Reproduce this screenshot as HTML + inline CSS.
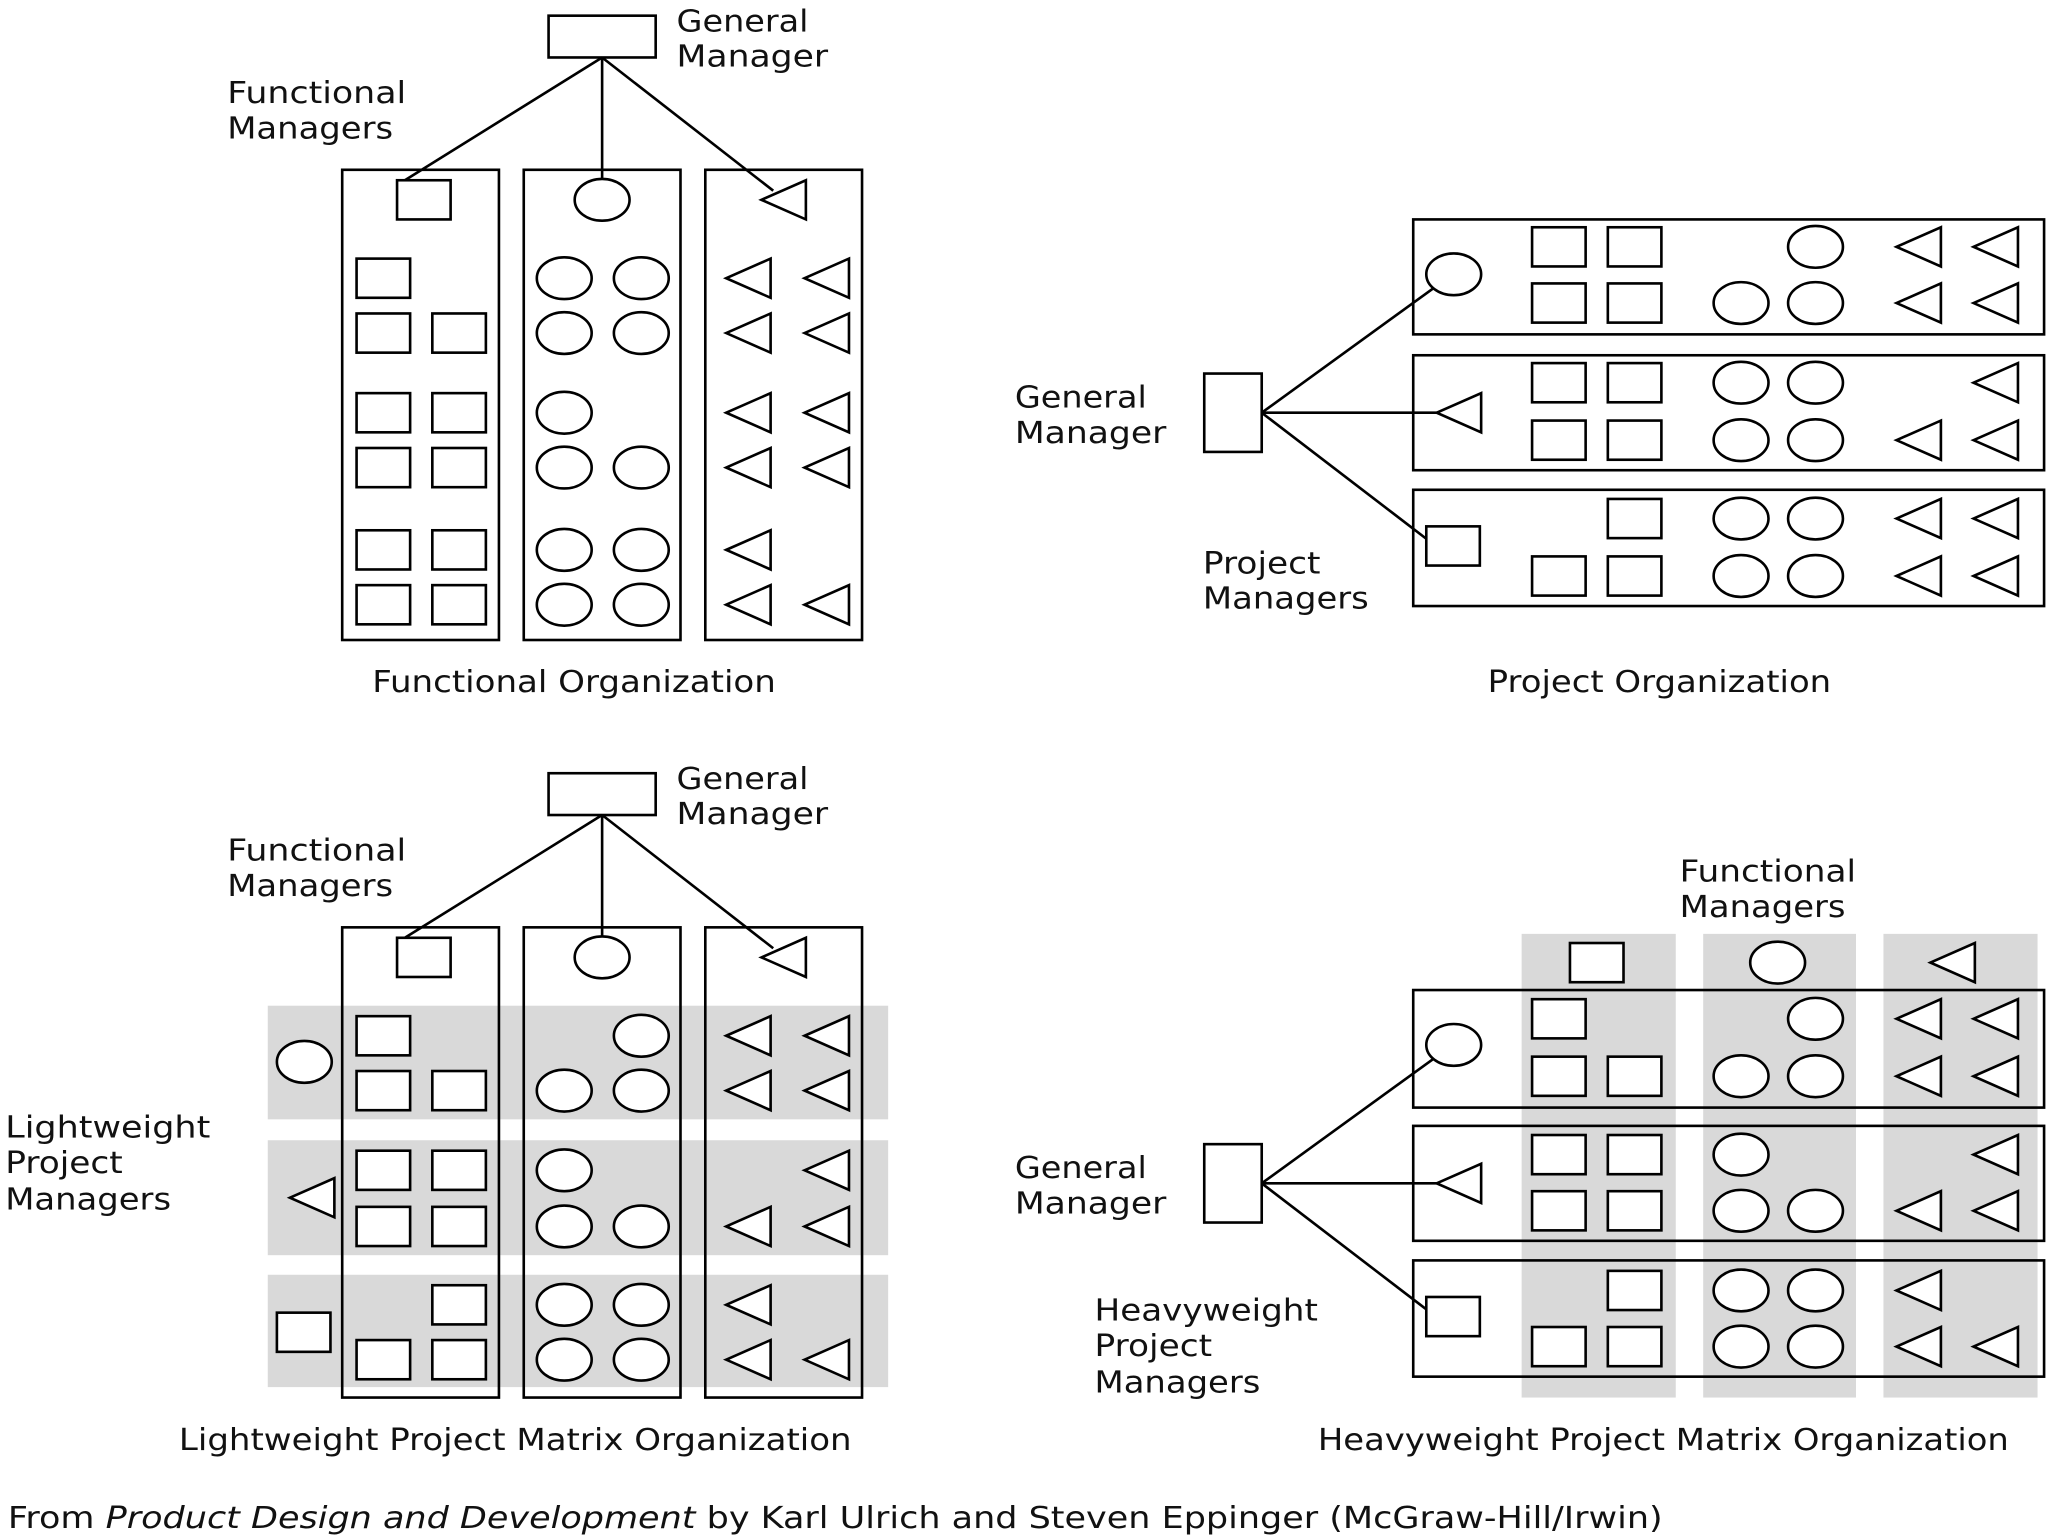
<!DOCTYPE html>
<html><head><meta charset="utf-8"><style>html,body{margin:0;padding:0;background:#fff}svg{display:block}text{font-family:"DejaVu Sans","Liberation Sans",sans-serif;font-size:23px;fill:#111}</style></head><body>
<svg width="2048" height="1536" viewBox="0 0 1568 1176" xmlns="http://www.w3.org/2000/svg">
<defs>
<rect id="s" x="0" y="-15" width="41" height="30" fill="#fff" stroke="#000" stroke-width="2"/>
<ellipse id="c" cx="0" cy="0" rx="21" ry="16" fill="#fff" stroke="#000" stroke-width="2"/>
<polygon id="t" points="0,0 34,-15 34,15" fill="#fff" stroke="#000" stroke-width="2"/>
</defs>
<g fill="none" stroke="#000" stroke-width="2">
<rect x="420" y="12" width="82" height="32"/>
<line x1="461" y1="44" x2="310" y2="138"/><line x1="461" y1="44" x2="461" y2="137"/><line x1="461" y1="44" x2="592" y2="146"/>
<rect x="262" y="130" width="120" height="360"/><rect x="401" y="130" width="120" height="360"/><rect x="540" y="130" width="120" height="360"/>
</g>
<use href="#s" x="304" y="153"/><use href="#c" x="461" y="153"/><use href="#t" x="583" y="153"/>
<use href="#s" x="273" y="213"/>
<use href="#s" x="273" y="255"/><use href="#s" x="331" y="255"/>
<use href="#s" x="273" y="316"/><use href="#s" x="331" y="316"/>
<use href="#s" x="273" y="358"/><use href="#s" x="331" y="358"/>
<use href="#s" x="273" y="421"/><use href="#s" x="331" y="421"/>
<use href="#s" x="273" y="463"/><use href="#s" x="331" y="463"/>
<use href="#c" x="432" y="213"/><use href="#c" x="491" y="213"/>
<use href="#c" x="432" y="255"/><use href="#c" x="491" y="255"/>
<use href="#c" x="432" y="316"/>
<use href="#c" x="432" y="358"/><use href="#c" x="491" y="358"/>
<use href="#c" x="432" y="421"/><use href="#c" x="491" y="421"/>
<use href="#c" x="432" y="463"/><use href="#c" x="491" y="463"/>
<use href="#t" x="556" y="213"/><use href="#t" x="616" y="213"/>
<use href="#t" x="556" y="255"/><use href="#t" x="616" y="255"/>
<use href="#t" x="556" y="316"/><use href="#t" x="616" y="316"/>
<use href="#t" x="556" y="358"/><use href="#t" x="616" y="358"/>
<use href="#t" x="556" y="421"/>
<use href="#t" x="556" y="463"/><use href="#t" x="616" y="463"/>
<text x="518" y="24" textLength="101" lengthAdjust="spacingAndGlyphs">General</text><text x="518" y="51" textLength="116" lengthAdjust="spacingAndGlyphs">Manager</text>
<text x="174" y="79" textLength="137" lengthAdjust="spacingAndGlyphs">Functional</text><text x="174" y="106" textLength="127" lengthAdjust="spacingAndGlyphs">Managers</text>
<text x="285" y="530" textLength="309" lengthAdjust="spacingAndGlyphs">Functional Organization</text>

<g fill="none" stroke="#000" stroke-width="2">
<rect x="1082" y="168" width="483" height="88"/><rect x="1082" y="272" width="483" height="88"/><rect x="1082" y="375" width="483" height="89"/>
<rect x="922" y="286" width="44" height="60"/>
<line x1="966" y1="316" x2="1097" y2="221"/><line x1="966" y1="316" x2="1100" y2="316"/><line x1="966" y1="316" x2="1094" y2="414"/>
</g>
<use href="#c" x="1113" y="210"/><use href="#t" x="1100" y="316"/><use href="#s" x="1092" y="418"/>
<use href="#s" x="1173" y="189"/><use href="#s" x="1231" y="189"/><use href="#c" x="1390" y="189"/><use href="#t" x="1452" y="189"/><use href="#t" x="1511" y="189"/>
<use href="#s" x="1173" y="232"/><use href="#s" x="1231" y="232"/><use href="#c" x="1333" y="232"/><use href="#c" x="1390" y="232"/><use href="#t" x="1452" y="232"/><use href="#t" x="1511" y="232"/>
<use href="#s" x="1173" y="293"/><use href="#s" x="1231" y="293"/><use href="#c" x="1333" y="293"/><use href="#c" x="1390" y="293"/><use href="#t" x="1511" y="293"/>
<use href="#s" x="1173" y="337"/><use href="#s" x="1231" y="337"/><use href="#c" x="1333" y="337"/><use href="#c" x="1390" y="337"/><use href="#t" x="1452" y="337"/><use href="#t" x="1511" y="337"/>
<use href="#s" x="1231" y="397"/><use href="#c" x="1333" y="397"/><use href="#c" x="1390" y="397"/><use href="#t" x="1452" y="397"/><use href="#t" x="1511" y="397"/>
<use href="#s" x="1173" y="441"/><use href="#s" x="1231" y="441"/><use href="#c" x="1333" y="441"/><use href="#c" x="1390" y="441"/><use href="#t" x="1452" y="441"/><use href="#t" x="1511" y="441"/>
<text x="777" y="312" textLength="101" lengthAdjust="spacingAndGlyphs">General</text><text x="777" y="339" textLength="116" lengthAdjust="spacingAndGlyphs">Manager</text>
<text x="921" y="439" textLength="90" lengthAdjust="spacingAndGlyphs">Project</text><text x="921" y="466" textLength="127" lengthAdjust="spacingAndGlyphs">Managers</text>
<text x="1139" y="530" textLength="263" lengthAdjust="spacingAndGlyphs">Project Organization</text>

<g fill="#d9d9d9"><rect x="205" y="770" width="475" height="87"/><rect x="205" y="873" width="475" height="88"/><rect x="205" y="976" width="475" height="86"/></g>
<g fill="none" stroke="#000" stroke-width="2">
<rect x="420" y="592" width="82" height="32"/>
<line x1="461" y1="624" x2="310" y2="718"/><line x1="461" y1="624" x2="461" y2="717"/><line x1="461" y1="624" x2="592" y2="726"/>
<rect x="262" y="710" width="120" height="360"/><rect x="401" y="710" width="120" height="360"/><rect x="540" y="710" width="120" height="360"/>
</g>
<use href="#s" x="304" y="733"/><use href="#c" x="461" y="733"/><use href="#t" x="583" y="733"/>
<use href="#c" x="233" y="813"/><use href="#t" x="222" y="917"/><use href="#s" x="212" y="1020"/>
<use href="#s" x="273" y="793"/>
<use href="#s" x="273" y="835"/><use href="#s" x="331" y="835"/>
<use href="#s" x="273" y="896"/><use href="#s" x="331" y="896"/>
<use href="#s" x="273" y="939"/><use href="#s" x="331" y="939"/>
<use href="#s" x="331" y="999"/>
<use href="#s" x="273" y="1041"/><use href="#s" x="331" y="1041"/>
<use href="#c" x="491" y="793"/>
<use href="#c" x="432" y="835"/><use href="#c" x="491" y="835"/>
<use href="#c" x="432" y="896"/>
<use href="#c" x="432" y="939"/><use href="#c" x="491" y="939"/>
<use href="#c" x="432" y="999"/><use href="#c" x="491" y="999"/>
<use href="#c" x="432" y="1041"/><use href="#c" x="491" y="1041"/>
<use href="#t" x="556" y="793"/><use href="#t" x="616" y="793"/>
<use href="#t" x="556" y="835"/><use href="#t" x="616" y="835"/>
<use href="#t" x="616" y="896"/>
<use href="#t" x="556" y="939"/><use href="#t" x="616" y="939"/>
<use href="#t" x="556" y="999"/>
<use href="#t" x="556" y="1041"/><use href="#t" x="616" y="1041"/>
<text x="518" y="604" textLength="101" lengthAdjust="spacingAndGlyphs">General</text><text x="518" y="631" textLength="116" lengthAdjust="spacingAndGlyphs">Manager</text>
<text x="174" y="659" textLength="137" lengthAdjust="spacingAndGlyphs">Functional</text><text x="174" y="686" textLength="127" lengthAdjust="spacingAndGlyphs">Managers</text>
<text x="4" y="871" textLength="157" lengthAdjust="spacingAndGlyphs">Lightweight</text><text x="4" y="898" textLength="90" lengthAdjust="spacingAndGlyphs">Project</text><text x="4" y="926" textLength="127" lengthAdjust="spacingAndGlyphs">Managers</text>
<text x="137" y="1110" textLength="515" lengthAdjust="spacingAndGlyphs">Lightweight Project Matrix Organization</text>

<g fill="#d9d9d9"><rect x="1165" y="715" width="118" height="355"/><rect x="1304" y="715" width="117" height="355"/><rect x="1442" y="715" width="118" height="355"/></g>
<g fill="none" stroke="#000" stroke-width="2">
<rect x="1082" y="758" width="483" height="90"/><rect x="1082" y="862" width="483" height="88"/><rect x="1082" y="965" width="483" height="89"/>
<rect x="922" y="876" width="44" height="60"/>
<line x1="966" y1="906" x2="1097" y2="811"/><line x1="966" y1="906" x2="1100" y2="906"/><line x1="966" y1="906" x2="1094" y2="1004"/>
</g>
<use href="#s" x="1202" y="737"/><use href="#c" x="1361" y="737"/><use href="#t" x="1478" y="737"/>
<use href="#c" x="1113" y="800"/><use href="#t" x="1100" y="906"/><use href="#s" x="1092" y="1008"/>
<use href="#s" x="1173" y="780"/><use href="#c" x="1390" y="780"/><use href="#t" x="1452" y="780"/><use href="#t" x="1511" y="780"/>
<use href="#s" x="1173" y="824"/><use href="#s" x="1231" y="824"/><use href="#c" x="1333" y="824"/><use href="#c" x="1390" y="824"/><use href="#t" x="1452" y="824"/><use href="#t" x="1511" y="824"/>
<use href="#s" x="1173" y="884"/><use href="#s" x="1231" y="884"/><use href="#c" x="1333" y="884"/><use href="#t" x="1511" y="884"/>
<use href="#s" x="1173" y="927"/><use href="#s" x="1231" y="927"/><use href="#c" x="1333" y="927"/><use href="#c" x="1390" y="927"/><use href="#t" x="1452" y="927"/><use href="#t" x="1511" y="927"/>
<use href="#s" x="1231" y="988"/><use href="#c" x="1333" y="988"/><use href="#c" x="1390" y="988"/><use href="#t" x="1452" y="988"/>
<use href="#s" x="1173" y="1031"/><use href="#s" x="1231" y="1031"/><use href="#c" x="1333" y="1031"/><use href="#c" x="1390" y="1031"/><use href="#t" x="1452" y="1031"/><use href="#t" x="1511" y="1031"/>
<text x="1286" y="675" textLength="135" lengthAdjust="spacingAndGlyphs">Functional</text><text x="1286" y="702" textLength="127" lengthAdjust="spacingAndGlyphs">Managers</text>
<text x="777" y="902" textLength="101" lengthAdjust="spacingAndGlyphs">General</text><text x="777" y="929" textLength="116" lengthAdjust="spacingAndGlyphs">Manager</text>
<text x="838" y="1011" textLength="171" lengthAdjust="spacingAndGlyphs">Heavyweight</text><text x="838" y="1038" textLength="90" lengthAdjust="spacingAndGlyphs">Project</text><text x="838" y="1066" textLength="127" lengthAdjust="spacingAndGlyphs">Managers</text>
<text x="1009" y="1110" textLength="529" lengthAdjust="spacingAndGlyphs">Heavyweight Project Matrix Organization</text>

<text x="6" y="1170" textLength="1267" lengthAdjust="spacingAndGlyphs">From <tspan font-style="italic">Product Design and Development</tspan> by Karl Ulrich and Steven Eppinger (McGraw-Hill/Irwin)</text>
</svg>
</body></html>
